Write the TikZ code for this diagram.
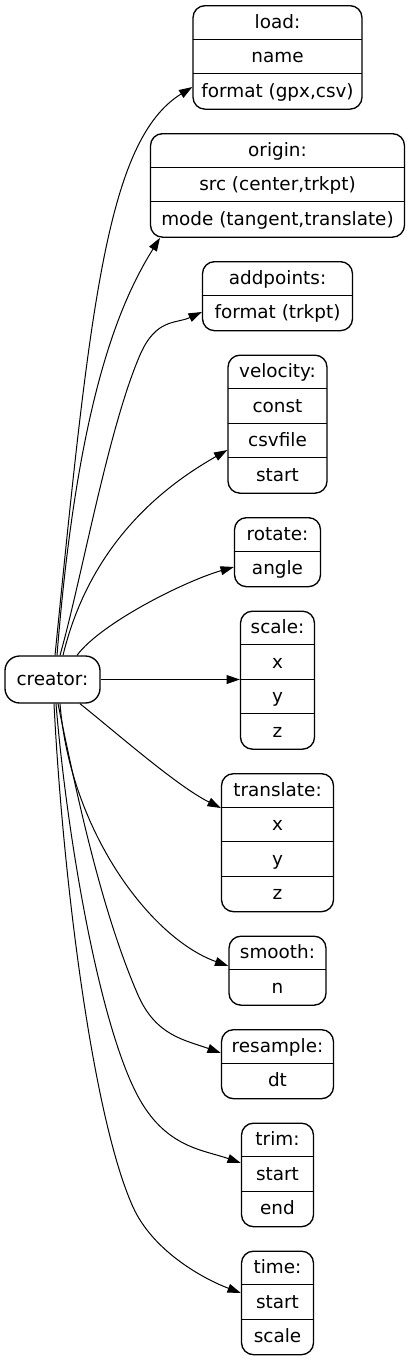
\documentclass[tikz,border=0pt]{standalone}
\usepackage{fontspec}
\setmainfont{DejaVu Sans}
\usetikzlibrary{arrows.meta}
\tikzset{
  recbox/.style={draw, line width=1pt, rounded corners=9pt, inner sep=0pt},
  rowtext/.style={inner sep=0pt, minimum height=25.875pt, text height=11pt, text depth=2pt, font=\fontsize{13.8}{16}\selectfont},
  recline/.style={line width=1pt},
  edgeline/.style={line width=0.75pt, -{Triangle[length=10pt,width=6.7pt]}},
}
\newcommand\recnode[5]{%
  \node[recbox, minimum width=#3*0.75pt, minimum height=#4*25.875pt, anchor=north] (#1) at (277.5,#2) {};
  \foreach \t [count=\i] in {#5} {
    \node[rowtext, minimum width=#3*0.75pt] (#1-\i) at (277.5,{#2+34.5*(\i-0.5)}) {\t};
    \ifnum\i>1 \draw[recline] (#1-\i.north west) -- (#1-\i.north east);\fi
  }%
}
\begin{document}
\begin{tikzpicture}[x=0.75pt,y=-0.75pt]
\fill[white] (0,0) rectangle (411,1360);
\useasboundingbox (0,0) rectangle (411,1360);
\recnode{load}{5}{169}{3}{load:,name,{format (gpx,csv)}}
\recnode{origin}{133}{254}{3}{origin:,{src (center,trkpt)},{mode (tangent,translate)}}
\recnode{addpoints}{261}{150}{2}{addpoints:,format (trkpt)}
\recnode{velocity}{354.5}{99}{4}{velocity:,const,csvfile,start}
\recnode{rotate}{517}{86}{2}{rotate:,angle}
\recnode{scale}{610.5}{74}{4}{scale:,x,y,z}
\recnode{translate}{773}{112}{4}{translate:,x,y,z}
\recnode{smooth}{935.5}{97}{2}{smooth:,n}
\recnode{resample}{1029}{112}{2}{resample:,dt}
\recnode{trim}{1122.5}{72}{3}{trim:,start,end}
\recnode{time}{1250.5}{72}{3}{time:,start,scale}
\node[recbox, rowtext, rounded corners=11pt, minimum width=71.25pt, minimum height=35.25pt] (creator) at (52.5,679.5) {creator:};
\draw[edgeline] (creator.north -| 55,0) .. controls (90,305) and (107,140) .. (load.west |- 0,87);
\draw[edgeline] (creator.north -| 57,0) .. controls (77,405) and (118,305) .. (origin.south -| 160,0);
\draw[edgeline] (creator.north -| 60,0) .. controls (81.6,579) and (108,429) .. (140,355) .. controls (156,318) and (176,324) .. (addpoints.west |- 0,312);
\draw[edgeline] (creator.north -| 63,0) .. controls (92,535) and (175,480) .. (velocity.west |- 0,450);
\draw[edgeline] (creator.north -| 77,0) .. controls (101,623) and (185,581) .. (rotate.west |- 0,567);
\draw[edgeline] (creator.east) -- (scale.west |- creator.east);
\draw[edgeline] (creator.south -| 80,0) .. controls (119,735) and (177,786) .. (translate.west |- 0,808);
\draw[edgeline] (creator.south -| 60,0) .. controls (70,830) and (150,938) .. (smooth.west |- 0,966);
\draw[edgeline] (creator.south -| 58,0) .. controls (78,801) and (102,912) .. (138,995) .. controls (156,1036) and (185,1040) .. (resample.west |- 0,1053);
\draw[edgeline] (creator.south -| 56,0) .. controls (67,838) and (100,1030) .. (140,1100) .. controls (167.5,1148) and (204,1150) .. (trim.west |- 0,1163);
\draw[edgeline] (creator.south -| 54,0) .. controls (62.5,873) and (92,1116) .. (133,1207) .. controls (152,1249) and (199,1277) .. (time.west |- 0,1293);
\end{tikzpicture}
\end{document}
